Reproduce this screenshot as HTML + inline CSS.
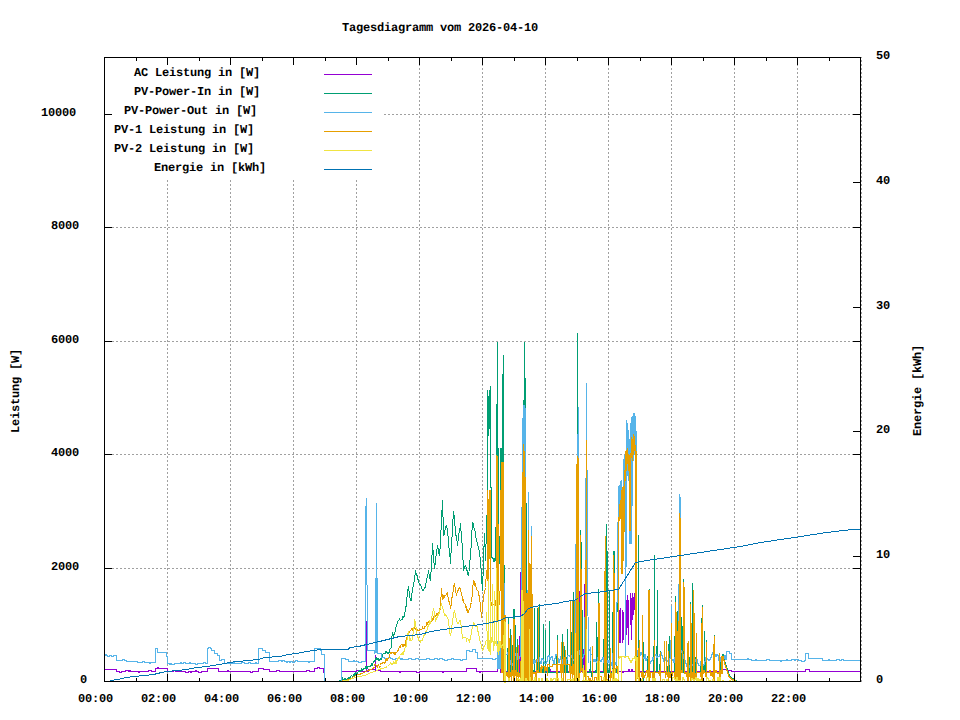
<!DOCTYPE html><html><head><meta charset="utf-8"><style>html,body{margin:0;padding:0;background:#fff;width:960px;height:720px;overflow:hidden}svg{display:block}text{font-family:"Liberation Mono",monospace;font-weight:bold;font-size:12px;letter-spacing:-0.2px;fill:#000;text-rendering:geometricPrecision}</style></head><body>
<svg width="960" height="720" viewBox="0 0 960 720">
<rect width="960" height="720" fill="#fff"/>
<path d="M167.5,682V57M230.5,682V57M293.5,682V57M356.5,682V57M419.5,682V57M482.5,682V57M545.5,682V57M608.5,682V57M671.5,682V57M734.5,682V57M797.5,682V57M104,568.5H860M104,454.5H860M104,341.5H860M104,227.5H860M104,114.5H860M861.5,682V57" stroke="#a0a0a0" stroke-width="1" stroke-dasharray="2,2" fill="none" shape-rendering="crispEdges"/>
<g fill="none" stroke-width="1" stroke-linejoin="miter" shape-rendering="crispEdges">
<path d="M104,669.5H116.5V671.5H119.5V672.5H121.5V671.5H125.5V670.5H128.5V671.5H129.5V670.5H130.5V671.5H138.5V672.5H139.5V671.5H148.5V670.5H151.5V671.5H155.5V668.5H157.5V667.5H158.5V668.5H167.5V671.5H173.5V670.5H175.5V671.5H185.5V672.5H188.5V671.5H190.5V672.5H191.5V671.5H195.5V670.5H196.5V671.5H198.5V672.5H201.5V671.5H207.5V668.5H218.5V671.5H227.5V670.5H228.5V671.5H250.5V672.5H252.5V671.5H258.5V668.5H263.5V669.5H269.5V671.5H276.5V670.5H279.5V671.5H306.5V670.5H309.5V671.5H314.5V668.5H317.5V667.5H319.5V668.5H323.5V672.5H324.5V681.5H341.5V671.5H356.5V670.5H359.5V671.5H366" stroke="#9400d3" />
<path d="M365,671.5H366.5V621V671.5H368.5V669.5H375.5V654.5V670.5H380.5V671.5" stroke="#9400d3" />
<path d="M380,671.5H399.5V672.5H400.5V671.5H416.5V672.5H419.5V671.5H442.5V672.5H443.5V671.5H466.5V668.5H476.5V671.5H479.5V672.5H480.5V671.5H498" stroke="#9400d3" />
<path d="M497.5,668.5 L497.5,671.5 L497.5,668.5 L498.5,668.5 L498.5,668.5 L499.5,668.5 L499.5,668.5 L500.5,668.5 L500.5,672.5 L500.5,672.5 L501.5,672.5 L501.5,668.5 L501.5,668.5 L502.5,668.5 L502.5,672.5 L502.5,668.5 L503.5,668.5 L503.5,671.5 L504.5,671.5 L504.5,671.5 L505.5,671.5 L505.5,671.5 L506.5,671.5 L506.5,671.5 L507.5,671.5 L507.5,671.5 L508.5,671.5 L508.5,669.5 L509.5,669.5 L509.5,671.5 L510.5,671.5 L510.5,671.5 L511.5,671.5 L511.5,671.5 L512.5,671.5 L512.5,671.5 L513.5,671.5 L513.5,671.5 L514.5,671.5 L514.5,671.5 L515.5,671.5 L515.5,671.5 L516.5,671.5 L516.5,671.5 L517.5,671.5 L517.5,671.5 L518.5,671.5 L518.5,671.5 L519.5,671.5 L519.5,671.5 L520.5,602.5 L520.5,571.5 L520.5,671.5 L521.5,671.5 L521.5,671.5 L522.5,671.5 L522.5,671.5 L523.5,671.5 L523.5,671.5 L524.5,671.5 L524.5,671.5 L525.5,671.5 L525.5,671.5 L526.5,671.5 L526.5,671.5 L527.5,671.5 L527.5,671.5 L528.5,671.5 L528.5,671.5 L529.5,671.5 L529.5,671.5 L530.5,671.5 L530.5,671.5 L531.5,671.5 L531.5,671.5 L532.5,671.5 L532.5,671.5 L533.5,671.5 L533.5,671.5 L534.5,671.5 L534.5,671.5 L535.5,671.5 L535.5,671.5 L536.5,671.5 L536.5,671.5 L537.5,671.5 L537.5,672.5 L538.5,672.5 L538.5,671.5 L539.5,671.5 L539.5,671.5 L540.5,671.5 L540.5,671.5 L541.5,671.5 L541.5,671.5 L542.5,671.5 L542.5,671.5 L543.5,671.5 L543.5,671.5 L544.5,671.5 L544.5,671.5 L545.5,671.5 L545.5,671.5 L546.5,671.5 L546.5,671.5 L547.5,671.5 L547.5,671.5 L548.5,671.5 L548.5,671.5 L549.5,671.5 L549.5,669.5 L550.5,669.5 L550.5,671.5 L551.5,671.5 L551.5,671.5 L552.5,671.5 L552.5,671.5 L553.5,671.5 L553.5,671.5 L554.5,671.5 L554.5,671.5 L555.5,671.5 L555.5,671.5 L556.5,671.5 L556.5,671.5 L557.5,671.5 L557.5,671.5 L558.5,671.5 L558.5,671.5 L559.5,671.5 L559.5,671.5 L560.5,671.5 L560.5,671.5 L561.5,671.5 L561.5,669.5 L562.5,669.5 L562.5,671.5 L563.5,671.5 L563.5,671.5 L564.5,671.5 L564.5,671.5 L565.5,671.5 L565.5,671.5 L566.5,671.5 L566.5,671.5 L567.5,671.5 L567.5,672.5 L568.5,672.5 L568.5,671.5 L569.5,671.5 L569.5,671.5 L570.5,671.5 L570.5,671.5 L571.5,671.5 L571.5,671.5 L572.5,671.5 L572.5,669.5 L573.5,669.5 L573.5,671.5 L574.5,671.5 L574.5,671.5 L575.5,671.5 L575.5,671.5 L576.5,671.5 L576.5,671.5 L577.5,671.5 L577.5,671.5 L578.5,671.5 L578.5,671.5 L579.5,671.5 L579.5,590.5 L579.5,671.5 L580.5,671.5 L580.5,671.5 L581.5,671.5 L581.5,671.5 L582.5,671.5 L582.5,671.5 L583.5,671.5 L583.5,671.5 L584.5,628.5 L584.5,583.5 L584.5,671.5 L585.5,671.5 L585.5,671.5 L586.5,671.5 L586.5,671.5 L587.5,671.5 L587.5,671.5 L588.5,671.5 L588.5,671.5 L589.5,671.5 L589.5,669.5 L590.5,669.5 L590.5,671.5 L591.5,671.5 L591.5,671.5 L592.5,671.5 L592.5,671.5 L593.5,671.5 L593.5,671.5 L594.5,671.5 L594.5,671.5 L595.5,671.5 L595.5,671.5 L596.5,671.5 L596.5,672.5 L597.5,672.5 L597.5,671.5 L598.5,671.5 L598.5,671.5 L599.5,671.5 L599.5,671.5 L600.5,671.5 L600.5,671.5 L601.5,671.5 L601.5,671.5 L602.5,671.5 L602.5,671.5 L603.5,671.5 L603.5,671.5 L604.5,671.5 L604.5,671.5 L605.5,671.5 L605.5,671.5 L606.5,671.5 L606.5,669.5 L607.5,669.5 L607.5,671.5 L608.5,671.5 L608.5,671.5 L609.5,671.5 L609.5,671.5 L610.5,671.5 L610.5,671.5 L611.5,671.5 L611.5,671.5 L612.5,671.5 L612.5,671.5 L613.5,671.5 L613.5,671.5 L614.5,671.5 L614.5,671.5 L615.5,671.5 L615.5,671.5 L616.5,671.5 L616.5,671.5 L617.5,671.5 L617.5,671.5 L618.5,671.5 L618.5,671.5 L619.5,671.5 L619.5,671.5 L620.5,671.5 L620.5,671.5 L621.5,671.5 L621.5,671.5 L622.5,671.5 L622.5,672.5 L623.5,672.5 L623.5,671.5 L624.5,671.5 L624.5,671.5 L625.5,671.5 L625.5,671.5 L626.5,671.5 L626.5,671.5 L627.5,671.5 L627.5,671.5 L628.5,671.5 L628.5,669.5 L629.5,669.5 L629.5,671.5 L630.5,671.5 L630.5,671.5 L631.5,671.5 L631.5,669.5 L632.5,669.5 L632.5,671.5 L633.5,671.5 L633.5,671.5 L634.5,671.5 L634.5,671.5 L635.5,671.5 L635.5,671.5 L636.5,671.5 L636.5,671.5 L637.5,671.5 L637.5,671.5 L638.5,671.5 L638.5,671.5 L639.5,671.5 L639.5,671.5 L640.5,671.5 L640.5,671.5 L641.5,671.5 L641.5,671.5 L642.5,671.5 L642.5,671.5 L643.5,671.5 L643.5,671.5 L644.5,671.5 L644.5,671.5 L645.5,671.5 L645.5,671.5 L646.5,671.5 L646.5,671.5 L647.5,671.5 L647.5,671.5 L648.5,671.5 L648.5,671.5 L649.5,671.5 L649.5,671.5 L650.5,671.5 L650.5,671.5 L651.5,671.5 L651.5,671.5 L652.5,671.5 L652.5,672.5 L653.5,672.5 L653.5,669.5 L654.5,669.5 L654.5,671.5 L655.5,671.5 L655.5,672.5 L656.5,672.5 L656.5,671.5 L657.5,671.5 L657.5,671.5 L658.5,671.5 L658.5,671.5 L659.5,671.5 L659.5,671.5 L660.5,671.5 L660.5,671.5 L661.5,671.5 L661.5,671.5 L662.5,671.5 L662.5,671.5 L663.5,671.5 L663.5,671.5 L664.5,671.5 L664.5,671.5 L665.5,671.5 L665.5,671.5 L666.5,671.5 L666.5,672.5 L667.5,672.5 L667.5,671.5 L668.5,671.5 L668.5,671.5 L669.5,671.5 L669.5,671.5 L670.5,671.5 L670.5,671.5 L671.5,670.5 L671.5,656.5 L671.5,671.5 L672.5,671.5 L672.5,671.5 L673.5,671.5 L673.5,671.5 L674.5,671.5 L674.5,671.5 L675.5,671.5 L675.5,671.5 L676.5,671.5 L676.5,665.5 L676.5,671.5 L677.5,671.5 L677.5,671.5 L678.5,671.5 L678.5,666.5 L678.5,671.5 L679.5,671.5 L679.5,671.5 L680.5,671.5 L680.5,671.5 L681.5,671.5 L681.5,671.5 L682.5,671.5 L682.5,671.5 L683.5,671.5 L683.5,671.5 L684.5,671.5 L684.5,671.5 L685.5,671.5 L685.5,671.5 L686.5,671.5 L686.5,671.5 L687.5,671.5 L687.5,669.5 L688.5,669.5 L688.5,669.5 L689.5,669.5 L689.5,671.5 L690.5,671.5 L690.5,671.5 L691.5,671.5 L691.5,671.5 L692.5,671.5 L692.5,671.5 L693.5,671.5 L693.5,671.5 L694.5,671.5 L694.5,671.5 L695.5,671.5 L695.5,671.5 L696.5,671.5 L696.5,671.5 L697.5,671.5 L697.5,671.5 L698.5,671.5 L698.5,671.5 L699.5,671.5 L699.5,671.5 L700.5,671.5 L700.5,671.5 L701.5,671.5 L701.5,671.5 L702.5,671.5 L702.5,671.5 L703.5,671.5 L703.5,671.5 L704.5,671.5 L704.5,671.5 L705.5,671.5 L705.5,672.5 L706.5,672.5 L706.5,671.5" stroke="#9400d3" />
<path d="M619.5,610V643M620.5,608V643M622.5,610V643M623.5,612V640M626.5,600V635M627.5,595V628M628.5,600V645M630.5,593V625M631.5,598V640M632.5,593V620M633.5,597V615M634.5,593V610M635.5,595V612" stroke="#9400d3" />
<path d="M706,671.5H720.5V669.5H727.5V670.5H731.5V671.5H805.5V669.5H809.5V671.5H860.5V671.5" stroke="#9400d3" />
<path d="M338.5,681.5 L341.5,679.5 L341.5,679.5 L342.0,678.7 L342.5,678.2 L343.0,680.5 L343.5,680.1 L344.0,679.6 L344.5,678.7 L345.0,678.4 L345.5,679.6 L346.0,679.1 L346.5,679.2 L347.0,679.2 L347.5,679.5 L348.0,677.8 L348.5,677.9 L349.0,680.0 L349.5,678.5 L350.0,679.4 L350.5,679.0 L351.0,676.1 L351.5,675.8 L352.0,676.1 L352.5,676.5 L353.0,675.9 L353.5,676.1 L354.0,674.2 L354.5,675.1 L355.0,673.3 L355.5,673.0 L356.0,674.4 L356.5,673.5 L357.0,673.3 L357.5,673.1 L358.0,672.0 L358.5,671.9 L359.0,670.8 L359.5,670.8 L360.0,671.6 L360.5,670.5 L361.0,671.3 L361.5,668.7 L362.0,668.6 L362.5,670.4 L363.0,669.6 L363.5,669.8 L364.0,667.9 L364.5,668.5 L365.0,668.0 L365.5,667.3 L366.0,668.7 L366.5,667.1 L367.0,667.7 L367.5,668.5 L368.0,666.2 L368.5,666.5 L369.0,666.4 L369.5,666.7 L370.0,667.0 L370.5,665.3 L371.0,664.9 L371.5,663.8 L372.0,665.9 L372.5,664.5 L373.0,662.7 L373.5,662.2 L374.0,663.2 L374.5,662.5 L375.0,660.5 L375.5,658.5 L376.0,659.3 L376.5,658.4 L377.0,660.1 L377.5,659.5 L378.0,658.5 L378.5,659.1 L379.0,660.7 L379.5,660.5 L380.0,658.7 L380.5,658.9 L381.0,659.7 L381.5,658.5 L382.0,657.6 L382.5,655.5 L383.0,654.3 L383.5,653.4 L384.0,653.6 L384.5,653.5 L385.0,653.9 L385.5,652.6 L386.0,651.6 L386.5,652.5 L387.0,653.1 L387.5,652.7 L388.0,653.8 L388.5,652.5 L389.0,652.8 L389.5,651.7 L390.0,649.3 L390.5,648.5 L391.0,647.9 L391.5,645.5 L391.5,640.5 L392.0,635.9 L392.5,632.5 L393.0,634.0 L393.5,636.5 L394.0,634.4 L394.5,634.1 L395.0,632.2 L395.5,628.4 L396.0,626.9 L396.5,625.5 L397.0,623.8 L397.5,622.6 L398.0,621.4 L398.5,620.5 L399.0,620.0 L399.5,619.3 L400.0,620.2 L400.5,620.7 L401.0,619.8 L401.5,619.5 L402.0,619.8 L402.5,618.4 L403.0,616.5 L403.5,617.6 L404.0,617.3 L404.5,615.5 L405.0,611.8 L405.5,608.1 L406.0,606.5 L406.5,603.5 L407.0,597.1 L407.5,590.5 L408.0,588.7 L408.5,586.5 L409.0,591.4 L409.5,593.5 L410.0,597.5 L410.5,600.5 L411.0,600.9 L411.5,599.5 L412.0,592.7 L412.5,588.5 L413.0,586.9 L413.5,585.9 L414.0,582.0 L414.5,581.5 L415.0,574.7 L415.5,570.5 L416.0,573.2 L416.5,575.7 L417.0,575.3 L417.5,578.5 L418.0,580.2 L418.5,579.9 L419.0,583.0 L419.5,583.5 L420.0,584.9 L420.5,584.7 L421.0,585.7 L421.5,587.5 L422.0,589.0 L422.5,589.1 L423.0,590.5 L423.5,590.5 L424.0,588.9 L424.5,587.5 L425.0,588.2 L425.5,585.5 L426.0,583.5 L426.5,580.5 L427.0,578.1 L427.5,575.5 L428.0,573.7 L428.5,570.5 L429.0,573.6 L429.5,575.5 L430.0,579.2 L430.5,580.5 L431.0,572.7 L431.5,565.5 L432.0,555.5 L432.5,543.5 L433.0,550.0 L433.5,555.5 L434.0,563.1 L434.5,568.5 L435.0,564.9 L435.5,560.5 L436.0,556.2 L436.5,550.5 L437.0,549.4 L437.5,545.5 L438.0,548.4 L438.5,550.6 L439.0,553.6 L439.5,555.5 L440.0,548.9 L440.5,540.5 L441.0,530.3 L441.5,520.5 L442.0,510.3 L442.5,500.5 L443.0,516.9 L443.5,535.5 L444.0,534.5 L444.5,533.5 L445.0,529.9 L445.5,528.5 L446.0,526.0 L446.5,525.5 L447.0,528.4 L447.5,532.8 L448.0,536.1 L448.5,540.5 L449.0,547.7 L449.5,550.7 L450.0,557.2 L450.5,563.5 L451.0,553.3 L451.5,545.5 L452.0,537.4 L452.5,529.3 L453.0,519.0 L453.5,511.5 L454.0,514.9 L454.5,520.9 L455.0,526.0 L455.5,530.5 L456.0,535.5 L456.5,536.6 L457.0,540.6 L457.5,545.5 L458.0,540.8 L458.5,537.2 L459.0,533.5 L459.5,530.5 L460.0,527.7 L460.5,523.5 L461.0,530.5 L461.5,536.2 L462.0,542.8 L462.5,550.5 L463.0,559.8 L463.5,570.5 L464.0,568.3 L464.5,568.8 L465.0,566.2 L465.5,565.5 L466.0,567.3 L466.5,569.8 L467.0,570.4 L467.5,571.4 L468.0,575.0 L468.5,575.5 L469.0,571.7 L469.5,565.0 L470.0,560.6 L470.5,555.5 L471.0,548.6 L471.5,538.9 L472.0,529.9 L472.5,522.5 L473.0,522.6 L473.5,526.8 L474.0,527.9 L474.5,528.5 L475.0,531.2 L475.5,534.6 L476.0,537.5 L476.5,540.5 L477.0,541.6 L477.5,545.5 L478.0,546.2 L478.5,547.5 L479.0,550.0 L479.5,552.5 L480.0,557.2 L480.5,560.5 L481.0,567.6 L481.5,576.4 L482.0,583.6 L482.5,590.5 L483.0,576.6 L483.5,561.0 L484.0,546.7 L484.5,533.5 L485.0,546.5 L485.5,560.5 L486.0,544.8 L486.5,530.5" stroke="#009e73" />
<path d="M486.5,530.5 L487.5,500.5 L487.5,390.5 L487.5,390.5 L488.5,400.5 L488.5,435.5 L488.5,435.5 L489.5,423.5 L489.5,393.5 L489.5,393.5 L490.5,386.5 L490.5,487.5 L490.5,487.5 L491.5,487.5 L491.5,548.5 L491.5,557.2 L492.5,557.2 L492.5,558.8 L493.5,558.8 L493.5,561.9 L494.5,561.9 L494.5,558.4 L495.5,558.4 L495.5,560.9 L496.5,495.5 L496.5,404.5 L496.5,404.5 L497.5,456.5 L497.5,342.5 L497.5,342.5 L498.5,552.5 L498.5,563.5 L498.5,563.5 L499.5,563.5 L499.5,552.5 L499.5,552.5 L500.5,520.5 L500.5,448.5 L500.5,448.5 L501.5,448.5 L501.5,520.5 L501.5,520.5 L502.5,462.5 L502.5,394.5 L502.5,394.5 L503.5,355.5 L503.5,489.5 L503.5,565.8 L504.5,565.8 L504.5,672.5 L505.5,672.5 L505.5,672.5 L506.5,672.5 L506.5,672.5 L507.5,672.5 L507.5,672.5 L508.5,624.5 L508.5,617.5 L508.5,672.5 L509.5,672.5 L509.5,672.5 L510.5,634.5 L510.5,628.5 L510.5,672.5 L511.5,672.5 L511.5,672.5 L512.5,672.5 L512.5,672.5 L513.5,619.5 L513.5,609.5 L513.5,609.5 L514.5,609.5 L514.5,619.5 L514.5,619.5 L515.5,630.5 L515.5,646.5 L515.5,672.5 L516.5,672.5 L516.5,672.5 L517.5,644.5 L517.5,638.5 L517.5,672.5 L518.5,672.5 L518.5,672.5 L519.5,672.5 L519.5,672.5 L520.5,672.5 L520.5,672.5 L521.5,672.5 L521.5,672.5 L522.5,672.5 L522.5,672.5 L523.5,415.5 L523.5,400.5 L523.5,400.5 L524.5,415.5 L524.5,342.5 L524.5,342.5 L525.5,410.5 L525.5,420.5 L525.5,420.5 L526.5,583.5 L526.5,590.5 L526.5,672.5 L527.5,672.5 L527.5,672.5 L528.5,672.5 L528.5,672.5 L529.5,672.5 L529.5,672.5 L530.5,672.5 L530.5,672.5 L531.5,672.5 L531.5,672.5 L532.5,672.5 L532.5,672.5 L533.5,672.5 L533.5,672.5 L534.5,667.5 L534.5,607.5 L534.5,672.5 L535.5,672.5 L535.5,672.5 L536.5,672.5 L536.5,672.5 L537.5,667.5 L537.5,607.5 L537.5,672.5 L538.5,672.5 L538.5,672.5 L539.5,623.5 L539.5,603.5 L539.5,672.5 L540.5,672.5 L540.5,672.5 L541.5,672.5 L541.5,672.5 L542.5,672.5 L542.5,672.5 L543.5,660.5 L543.5,623.5 L543.5,672.5 L544.5,672.5 L544.5,672.5 L545.5,660.5 L545.5,629.5 L545.5,672.5 L546.5,672.5 L546.5,672.5 L547.5,672.5 L547.5,672.5 L548.5,672.5 L548.5,672.5 L549.5,662.5 L549.5,620.5 L549.5,672.5 L550.5,672.5 L550.5,672.5 L551.5,672.5 L551.5,672.5 L552.5,672.5 L552.5,672.5 L553.5,672.5 L553.5,672.5 L554.5,672.5 L554.5,672.5 L555.5,672.5 L555.5,672.5 L556.5,672.5 L556.5,672.5 L557.5,640.5 L557.5,634.5 L557.5,672.5 L558.5,672.5 L558.5,672.5 L559.5,672.5 L559.5,672.5 L560.5,672.5 L560.5,672.5 L561.5,672.5 L561.5,672.5 L562.5,650.5 L562.5,633.5 L562.5,672.5 L563.5,672.5 L563.5,672.5 L564.5,655.5 L564.5,645.5 L564.5,672.5 L565.5,672.5 L565.5,672.5 L566.5,672.5 L566.5,672.5 L567.5,642.5 L567.5,628.5 L567.5,672.5 L568.5,672.5 L568.5,672.5 L569.5,672.5 L569.5,672.5 L570.5,672.5 L570.5,672.5 L571.5,660.5 L571.5,631.5 L571.5,672.5 L572.5,672.5 L572.5,672.5 L573.5,620.5 L573.5,591.5 L573.5,672.5 L574.5,672.5 L574.5,672.5 L575.5,672.5 L575.5,672.5 L576.5,672.5 L576.5,672.5 L577.5,406.5 L577.5,333.5 L577.5,333.5 L578.5,580.5 L578.5,600.5 L578.5,672.5 L579.5,672.5 L579.5,672.5 L580.5,535.5 L580.5,530.5 L580.5,530.5 L581.5,553.5 L581.5,665.5 L581.5,665.5 L582.5,665.5 L582.5,609.5 L582.5,672.5 L583.5,672.5 L583.5,672.5 L584.5,672.5 L584.5,672.5 L585.5,672.5 L585.5,672.5 L586.5,672.5 L586.5,672.5 L587.5,672.5 L587.5,672.5 L588.5,672.5 L588.5,672.5 L589.5,672.5 L589.5,672.5 L590.5,665.5 L590.5,653.5 L590.5,672.5 L591.5,672.5 L591.5,672.5 L592.5,680.5 L592.5,645.5 L592.5,672.5 L593.5,672.5 L593.5,672.5 L594.5,672.5 L594.5,672.5 L595.5,672.5 L595.5,672.5 L596.5,667.5 L596.5,621.5 L596.5,672.5 L597.5,672.5 L597.5,672.5 L598.5,603.5 L598.5,588.5 L598.5,672.5 L599.5,672.5 L599.5,672.5 L600.5,672.5 L600.5,672.5 L601.5,672.5 L601.5,672.5 L602.5,672.5 L602.5,672.5 L603.5,672.5 L603.5,672.5 L604.5,607.5 L604.5,604.5 L604.5,672.5 L605.5,672.5 L605.5,672.5 L606.5,536.5 L606.5,524.5 L606.5,524.5 L607.5,575.5 L607.5,667.5 L607.5,672.5 L608.5,672.5 L608.5,672.5 L609.5,667.5 L609.5,590.5 L609.5,672.5 L610.5,672.5 L610.5,672.5 L611.5,672.5 L611.5,672.5 L612.5,672.5 L612.5,672.5 L613.5,555.5 L613.5,551.5 L613.5,551.5 L614.5,551.5 L614.5,555.5 L614.5,672.5 L615.5,672.5 L615.5,672.5 L616.5,672.5 L616.5,672.5 L617.5,553.5 L617.5,545.5 L617.5,545.5 L618.5,508.5 L618.5,500.5 L618.5,500.5 L619.5,497.5 L619.5,505.5 L619.5,505.5 L620.5,502.5 L620.5,494.5 L620.5,494.5 L621.5,492.5 L621.5,500.5 L621.5,500.5 L622.5,498.5 L622.5,506.5 L622.5,506.5 L623.5,478.5 L623.5,470.5 L623.5,470.5 L624.5,470.5 L624.5,462.5 L624.5,462.5 L625.5,460.5 L625.5,468.5 L625.5,468.5 L626.5,438.5 L626.5,430.5 L626.5,430.5 L627.5,434.5 L627.5,442.5 L627.5,442.5 L628.5,440.5 L628.5,448.5 L628.5,448.5 L629.5,455.5 L629.5,463.5 L629.5,463.5 L630.5,444.5 L630.5,436.5 L630.5,436.5 L631.5,433.5 L631.5,425.5 L631.5,425.5 L632.5,428.5 L632.5,436.5 L632.5,436.5 L633.5,428.5 L633.5,420.5 L633.5,420.5 L634.5,420.5 L634.5,428.5 L634.5,428.5 L635.5,428.5 L635.5,436.5 L635.5,436.5 L636.5,440.5 L636.5,448.5 L636.5,672.5 L637.5,672.5 L637.5,672.5 L638.5,640.5 L638.5,534.5 L638.5,672.5 L639.5,672.5 L639.5,672.5 L640.5,672.5 L640.5,672.5 L641.5,672.5 L641.5,672.5 L642.5,672.5 L642.5,672.5 L643.5,680.5 L643.5,641.5 L643.5,672.5 L644.5,672.5 L644.5,672.5 L645.5,672.5 L645.5,672.5 L646.5,672.5 L646.5,672.5 L647.5,672.5 L647.5,672.5 L648.5,640.5 L648.5,631.5 L648.5,631.5 L649.5,592.5 L649.5,588.5 L649.5,672.5 L650.5,672.5 L650.5,672.5 L651.5,672.5 L651.5,672.5 L652.5,672.5 L652.5,672.5 L653.5,672.5 L653.5,672.5 L654.5,620.5 L654.5,554.5 L654.5,672.5 L655.5,672.5 L655.5,672.5 L656.5,672.5 L656.5,672.5 L657.5,620.5 L657.5,589.5 L657.5,672.5 L658.5,672.5 L658.5,672.5 L659.5,672.5 L659.5,672.5 L660.5,656.5 L660.5,650.5 L660.5,672.5 L661.5,672.5 L661.5,672.5 L662.5,672.5 L662.5,672.5 L663.5,672.5 L663.5,672.5 L664.5,672.5 L664.5,672.5 L665.5,672.5 L665.5,672.5 L666.5,672.5 L666.5,672.5 L667.5,672.5 L667.5,672.5 L668.5,660.5 L668.5,644.5 L668.5,644.5 L669.5,650.5 L669.5,635.5 L669.5,672.5 L670.5,672.5 L670.5,672.5 L671.5,672.5 L671.5,672.5 L672.5,672.5 L672.5,672.5 L673.5,672.5 L673.5,672.5 L674.5,672.5 L674.5,672.5 L675.5,602.5 L675.5,595.5 L675.5,672.5 L676.5,672.5 L676.5,672.5 L677.5,640.5 L677.5,610.5 L677.5,672.5 L678.5,672.5 L678.5,672.5 L679.5,672.5 L679.5,672.5 L680.5,672.5 L680.5,672.5 L681.5,670.5 L681.5,616.5 L681.5,672.5 L682.5,672.5 L682.5,672.5 L683.5,582.5 L683.5,578.5 L683.5,672.5 L684.5,672.5 L684.5,672.5 L685.5,672.5 L685.5,672.5 L686.5,672.5 L686.5,672.5 L687.5,672.5 L687.5,672.5 L688.5,672.5 L688.5,672.5 L689.5,672.5 L689.5,672.5 L690.5,641.5 L690.5,601.5 L690.5,672.5 L691.5,672.5 L691.5,672.5 L692.5,589.5 L692.5,582.5 L692.5,672.5 L693.5,672.5 L693.5,672.5 L694.5,641.5 L694.5,634.5 L694.5,672.5 L695.5,672.5 L695.5,672.5 L696.5,641.5 L696.5,632.5 L696.5,672.5 L697.5,672.5 L697.5,672.5 L698.5,672.5 L698.5,672.5 L699.5,672.5 L699.5,672.5 L700.5,672.5 L700.5,672.5 L701.5,660.5 L701.5,628.5 L701.5,628.5 L702.5,607.5 L702.5,604.5 L702.5,672.5 L703.5,672.5 L703.5,672.5 L704.5,660.5 L704.5,630.5 L704.5,672.5 L705.5,672.5 L705.5,672.5 L706.5,641.5 L706.5,639.5 L706.5,672.5 L707.5,672.5 L707.5,672.5 L708.5,672.5 L708.5,672.5 L709.5,672.5 L709.5,672.5 L710.5,672.5 L710.5,672.5 L711.5,672.5 L711.5,672.5 L712.5,672.5 L712.5,672.5 L713.5,672.5 L713.5,672.5 L714.5,636.5 L714.5,634.5 L714.5,672.5 L715.5,672.5 L715.5,672.5 L716.5,672.5 L716.5,672.5 L717.5,672.5 L717.5,672.5 L718.5,672.5 L718.5,672.5 L719.5,672.5 L719.5,672.5 L720.5,665.5 L720.5,656.5 L720.5,672.5 L721.5,672.5 L721.5,672.5 L722.5,672.5 L722.5,654.5 L723.5,654.5 L723.5,658.5 L724.5,658.5 L724.5,662.5 L725.5,662.5 L725.5,665.5 L726.5,665.5 L726.5,668.5 L727.5,668.5 L727.5,671.5 L728.5,671.5 L728.5,674.5 L729.5,674.5 L729.5,676.5 L730.5,676.5 L730.5,677.5 L731.5,677.5 L731.5,678.5 L732.5,678.5 L732.5,678.5 L733.5,678.5 L733.5,679.5 L734.5,679.5 L734.5,680.5 L735.5,680.5 L735.5,680.5 L736.5,680.5 L736.5,681.5 L737.5,681.5 L737.5,681.5" stroke="#009e73" />
<path d="M104,655.5H105.5V654.5H106.5V655.5H107.5V656.5H109.5V655.5H111.5V656.5H113.5V655.5H116.5V660.5H122.5V659.5H124.5V660.5H126.5V661.5H137.5V662.5H142.5V661.5H144.5V662.5H149.5V663.5H150.5V662.5H155.5V648.5H157.5V652.5H166.5V656.5H167.5V663.5H169.5V664.5H170.5V663.5H171.5V664.5H174.5V663.5H180.5V662.5H181.5V663.5H183.5V662.5H185.5V663.5H189.5V662.5H190.5V663.5H195.5V664.5H197.5V663.5H203.5V662.5H205.5V663.5H207.5V648.5H208.5V647.5H210.5V648.5H211.5V650.5H214.5V653.5H217.5V655.5H219.5V660.5H221.5V659.5H224.5V663.5H233.5V662.5H234.5V663.5H241.5V662.5H244.5V663.5H248.5V662.5H250.5V663.5H255.5V662.5H256.5V663.5H258.5V648.5H262.5V650.5H265.5V652.5H269.5V661.5H278.5V660.5H281.5V661.5H282.5V660.5H284.5V661.5H286.5V662.5H287.5V661.5H289.5V662.5H290.5V661.5H292.5V662.5H294.5V661.5H295.5V660.5H297.5V661.5H308.5V662.5H309.5V661.5H314.5V648.5H320.5V650.5H321.5V654.5H324.5V681.5H341.5V658.5H345.5V659.5H348.5V661.5H353.5V660.5H354.5V661.5H358.5V662.5H361.5V661.5H366" stroke="#56b4e9" />
<path d="M365.5,661.5V506M366.5,506V497.5M366.5,497.5V585M367.5,585V650.5H374.5V653.5M375.5,653V578M376.5,653V503M377.5,578V653.5H380.5" stroke="#56b4e9" />
<path d="M380,653.5H381.5V657.5H384.5V658.5H388.5V657.5H390.5V658.5H392.5V659.5H395.5V658.5H400.5V659.5H401.5V658.5H402.5V659.5H408.5V658.5H411.5V659.5H415.5V658.5H418.5V659.5H426.5V658.5H429.5V659.5H434.5V658.5H437.5V659.5H439.5V658.5H442.5V659.5H444.5V660.5H447.5V659.5H451.5V658.5H453.5V659.5H460.5V660.5H462.5V659.5H466.5V650.5H469.5V651.5H472.5V649.5H475.5V652.5H477.5V658.5H492.5V659.5H495.5V658.5H498" stroke="#56b4e9" />
<path d="M497.5,668.5 L497.5,641.5 L497.5,641.5 L498.5,641.5 L498.5,668.5 L498.5,668.5 L499.5,668.5 L499.5,641.5 L499.5,641.5 L500.5,641.5 L500.5,668.5 L500.5,668.5 L501.5,668.5 L501.5,641.5 L501.5,641.5 L502.5,641.5 L502.5,668.5 L502.5,668.5 L503.5,668.5 L503.5,641.5 L503.5,641.5 L504.5,619.5 L504.5,582.5 L504.5,650.5 L505.5,650.5 L505.5,654.5 L506.5,654.5 L506.5,654.5 L507.5,654.5 L507.5,652.5 L508.5,652.5 L508.5,657.5 L509.5,657.5 L509.5,660.5 L510.5,660.5 L510.5,664.5 L511.5,664.5 L511.5,665.5 L512.5,665.5 L512.5,663.5 L513.5,663.5 L513.5,658.5 L514.5,658.5 L514.5,655.5 L515.5,655.5 L515.5,653.5 L516.5,653.5 L516.5,653.5 L517.5,653.5 L517.5,659.5 L518.5,659.5 L518.5,658.5 L519.5,658.5 L519.5,656.5 L520.5,656.5 L520.5,653.5 L521.5,580.5 L521.5,533.5 L521.5,533.5 L522.5,482.5 L522.5,430.5 L522.5,430.5 L523.5,405.5 L523.5,500.5 L523.5,500.5 L524.5,410.5 L524.5,405.5 L524.5,405.5 L525.5,410.5 L525.5,495.5 L525.5,650.5 L526.5,650.5 L526.5,655.5 L527.5,655.5 L527.5,652.5 L528.5,530.5 L528.5,491.5 L528.5,655.5 L529.5,655.5 L529.5,660.5 L530.5,660.5 L530.5,660.5 L531.5,540.5 L531.5,525.5 L531.5,663.5 L532.5,663.5 L532.5,659.5 L533.5,659.5 L533.5,663.5 L534.5,663.5 L534.5,660.5 L535.5,660.5 L535.5,662.5 L536.5,662.5 L536.5,661.5 L537.5,661.5 L537.5,659.5 L538.5,659.5 L538.5,657.5 L539.5,657.5 L539.5,661.5 L540.5,661.5 L540.5,663.5 L541.5,663.5 L541.5,658.5 L542.5,658.5 L542.5,659.5 L543.5,659.5 L543.5,661.5 L544.5,661.5 L544.5,663.5 L545.5,663.5 L545.5,663.5 L546.5,663.5 L546.5,661.5 L547.5,661.5 L547.5,656.5 L548.5,656.5 L548.5,655.5 L549.5,655.5 L549.5,659.5 L550.5,659.5 L550.5,657.5 L551.5,657.5 L551.5,656.5 L552.5,656.5 L552.5,660.5 L553.5,660.5 L553.5,664.5 L554.5,664.5 L554.5,658.5 L555.5,658.5 L555.5,654.5 L556.5,654.5 L556.5,655.5 L557.5,655.5 L557.5,658.5 L558.5,658.5 L558.5,662.5 L559.5,662.5 L559.5,659.5 L560.5,659.5 L560.5,656.5 L561.5,656.5 L561.5,659.5 L562.5,659.5 L562.5,663.5 L563.5,663.5 L563.5,662.5 L564.5,662.5 L564.5,664.5 L565.5,664.5 L565.5,664.5 L566.5,664.5 L566.5,659.5 L567.5,659.5 L567.5,655.5 L568.5,655.5 L568.5,655.5 L569.5,655.5 L569.5,656.5 L570.5,656.5 L570.5,657.5 L571.5,657.5 L571.5,655.5 L572.5,655.5 L572.5,660.5 L573.5,660.5 L573.5,659.5 L574.5,659.5 L574.5,661.5 L575.5,571.5 L575.5,543.5 L575.5,663.5 L576.5,663.5 L576.5,659.5 L577.5,465.5 L577.5,434.5 L577.5,434.5 L578.5,456.5 L578.5,406.5 L578.5,650.5 L579.5,650.5 L579.5,654.5 L580.5,654.5 L580.5,656.5 L581.5,656.5 L581.5,658.5 L582.5,658.5 L582.5,657.5 L583.5,657.5 L583.5,654.5 L584.5,654.5 L584.5,654.5 L585.5,582.5 L585.5,519.5 L585.5,519.5 L586.5,440.5 L586.5,383.5 L586.5,383.5 L587.5,553.5 L587.5,582.5 L587.5,582.5 L588.5,647.5 L588.5,662.5 L588.5,650.5 L589.5,650.5 L589.5,650.5 L590.5,647.5 L590.5,660.5 L590.5,654.5 L591.5,654.5 L591.5,654.5 L592.5,654.5 L592.5,659.5 L593.5,659.5 L593.5,661.5 L594.5,661.5 L594.5,659.5 L595.5,659.5 L595.5,661.5 L596.5,661.5 L596.5,662.5 L597.5,662.5 L597.5,657.5 L598.5,657.5 L598.5,657.5 L599.5,657.5 L599.5,660.5 L600.5,660.5 L600.5,661.5 L601.5,661.5 L601.5,659.5 L602.5,659.5 L602.5,657.5 L603.5,657.5 L603.5,662.5 L604.5,662.5 L604.5,659.5 L605.5,659.5 L605.5,662.5 L606.5,662.5 L606.5,660.5 L607.5,660.5 L607.5,662.5 L608.5,662.5 L608.5,660.5 L609.5,660.5 L609.5,663.5 L610.5,663.5 L610.5,662.5 L611.5,662.5 L611.5,664.5 L612.5,667.5 L612.5,652.5 L612.5,665.5 L613.5,665.5 L613.5,666.5 L614.5,666.5 L614.5,662.5 L615.5,662.5 L615.5,664.5 L616.5,664.5 L616.5,661.5 L617.5,545.5 L617.5,530.5 L617.5,530.5 L618.5,513.5 L618.5,487.5 L618.5,487.5 L619.5,485.5 L619.5,513.5 L619.5,513.5 L620.5,518.5 L620.5,482.5 L620.5,482.5 L621.5,480.5 L621.5,518.5 L621.5,518.5 L622.5,500.5 L622.5,487.5 L622.5,487.5 L623.5,500.5 L623.5,462.5 L623.5,462.5 L624.5,455.5 L624.5,500.5 L624.5,500.5 L625.5,453.5 L625.5,657.5 L625.5,657.5 L626.5,480.5 L626.5,420.5 L626.5,420.5 L627.5,425.5 L627.5,470.5 L627.5,470.5 L628.5,480.5 L628.5,430.5 L628.5,430.5 L629.5,447.5 L629.5,543.5 L629.5,543.5 L630.5,543.5 L630.5,428.5 L630.5,428.5 L631.5,417.5 L631.5,543.5 L631.5,543.5 L632.5,470.5 L632.5,418.5 L632.5,418.5 L633.5,413.5 L633.5,460.5 L633.5,460.5 L634.5,450.5 L634.5,413.5 L634.5,413.5 L635.5,418.5 L635.5,450.5 L635.5,450.5 L636.5,450.5 L636.5,430.5 L636.5,650.5 L637.5,650.5 L637.5,655.5 L638.5,655.5 L638.5,658.5 L639.5,658.5 L639.5,655.5 L640.5,655.5 L640.5,652.5 L641.5,652.5 L641.5,654.5 L642.5,654.5 L642.5,657.5 L643.5,657.5 L643.5,658.5 L644.5,658.5 L644.5,654.5 L645.5,654.5 L645.5,660.5 L646.5,660.5 L646.5,658.5 L647.5,658.5 L647.5,658.5 L648.5,658.5 L648.5,662.5 L649.5,662.5 L649.5,663.5 L650.5,663.5 L650.5,661.5 L651.5,661.5 L651.5,660.5 L652.5,660.5 L652.5,657.5 L653.5,657.5 L653.5,659.5 L654.5,659.5 L654.5,655.5 L655.5,655.5 L655.5,654.5 L656.5,654.5 L656.5,657.5 L657.5,657.5 L657.5,656.5 L658.5,656.5 L658.5,656.5 L659.5,656.5 L659.5,654.5 L660.5,654.5 L660.5,652.5 L661.5,652.5 L661.5,655.5 L662.5,655.5 L662.5,658.5 L663.5,658.5 L663.5,661.5 L664.5,661.5 L664.5,657.5 L665.5,657.5 L665.5,660.5 L666.5,660.5 L666.5,661.5 L667.5,661.5 L667.5,660.5 L668.5,660.5 L668.5,664.5 L669.5,664.5 L669.5,658.5 L670.5,658.5 L670.5,658.5 L671.5,622.5 L671.5,605.5 L671.5,660.5 L672.5,660.5 L672.5,659.5 L673.5,659.5 L673.5,662.5 L674.5,662.5 L674.5,657.5 L675.5,657.5 L675.5,657.5 L676.5,657.5 L676.5,656.5 L677.5,656.5 L677.5,661.5 L678.5,661.5 L678.5,658.5 L679.5,513.5 L679.5,494.5 L679.5,494.5 L680.5,500.5 L680.5,521.5 L680.5,650.5 L681.5,650.5 L681.5,652.5 L682.5,652.5 L682.5,654.5 L683.5,654.5 L683.5,658.5 L684.5,658.5 L684.5,660.5 L685.5,660.5 L685.5,663.5 L686.5,663.5 L686.5,666.5 L687.5,666.5 L687.5,662.5 L688.5,662.5 L688.5,665.5 L689.5,665.5 L689.5,667.5 L690.5,667.5 L690.5,665.5 L691.5,665.5 L691.5,664.5 L692.5,664.5 L692.5,665.5 L693.5,665.5 L693.5,665.5 L694.5,665.5 L694.5,661.5 L695.5,661.5 L695.5,659.5 L696.5,659.5 L696.5,659.5 L697.5,659.5 L697.5,663.5 L698.5,663.5 L698.5,665.5 L699.5,665.5 L699.5,665.5 L700.5,665.5 L700.5,661.5 L701.5,661.5 L701.5,662.5 L702.5,662.5 L702.5,665.5 L703.5,665.5 L703.5,664.5 L704.5,664.5 L704.5,661.5 L705.5,661.5 L705.5,657.5 L706.5,657.5 L706.5,658.5 L707.5,658.5 L707.5,659.5 L708.5,659.5 L708.5,660.5 L709.5,660.5 L709.5,659.5 L710.5,659.5 L710.5,657.5 L711.5,657.5 L711.5,654.5 L712.5,654.5 L712.5,652.5 L713.5,652.5 L713.5,657.5 L714.5,657.5 L714.5,654.5 L715.5,654.5 L715.5,656.5 L716.5,656.5 L716.5,654.5 L717.5,654.5 L717.5,655.5 L718.5,655.5 L718.5,660.5 L719.5,660.5 L719.5,661.5 L720.5,661.5 L720.5,657.5 L721.5,657.5 L721.5,659.5 L722.5,659.5 L722.5,658.5 L723.5,658.5 L723.5,658.5 L724.5,658.5 L724.5,655.5 L725.5,655.5 L725.5,658.5" stroke="#56b4e9" />
<path d="M725,659.5H726.5V651.5H729.5V653.5H731.5V659.5H747.5V658.5H748.5V659.5H751.5V660.5H755.5V659.5H756.5V660.5H766.5V659.5H769.5V660.5H780.5V661.5H781.5V660.5H786.5V659.5H787.5V660.5H791.5V659.5H794.5V660.5H795.5V659.5H798.5V660.5H801.5V661.5H804.5V660.5H805.5V653.5H808.5V658.5H822.5V660.5H828.5V659.5H829.5V660.5H836.5V659.5H839.5V660.5H841.5V659.5H843.5V660.5H861" stroke="#56b4e9" />
<path d="M338.5,681.5 L345.5,680.5 L349.5,679.5 L352.5,677.5 L355.5,675.5 L358.5,674.5 L362.5,673.5 L365.5,671.5 L368.5,670.5 L370.5,669.5 L373.5,668.5 L374.5,666.5 L374.5,666.5 L375.0,664.4 L375.5,664.5 L376.0,664.6 L376.5,666.0 L377.0,665.2 L377.5,666.5 L378.0,665.4 L378.5,664.7 L379.0,666.3 L379.5,667.2 L380.0,667.1 L380.5,665.5 L381.0,663.4 L381.5,663.5 L382.0,663.8 L382.5,662.8 L383.0,663.1 L383.5,662.5 L384.0,661.8 L384.5,663.1 L385.0,662.8 L385.5,659.6 L386.0,661.3 L386.5,659.1 L387.0,658.5 L387.5,659.5 L388.0,657.9 L388.5,658.2 L389.0,658.0 L389.5,654.4 L390.0,654.0 L390.5,653.5 L391.0,651.9 L391.5,653.3 L392.0,652.9 L392.5,652.5 L393.0,652.1 L393.5,652.5 L394.0,653.7 L394.5,654.0 L395.0,652.6 L395.5,653.5 L396.0,652.4 L396.5,652.4 L397.0,652.0 L397.5,650.5 L398.0,650.9 L398.5,648.2 L399.0,648.1 L399.5,646.5 L400.0,646.5 L400.5,647.1 L401.0,644.9 L401.5,644.9 L402.0,644.5 L402.5,645.5 L403.0,646.8 L403.5,644.8 L404.0,645.5 L404.5,644.4 L405.0,645.0 L405.5,645.5 L406.0,640.1 L406.5,637.5 L407.0,636.9 L407.5,634.9 L408.0,635.6 L408.5,634.5 L409.0,632.8 L409.5,631.7 L410.0,631.4 L410.5,630.5 L411.0,629.9 L411.5,629.4 L412.0,628.6 L412.5,628.4 L413.0,630.7 L413.5,628.7 L414.0,627.8 L414.5,627.9 L415.0,628.7 L415.5,628.5 L416.0,630.3 L416.5,628.3 L417.0,630.6 L417.5,629.8 L418.0,629.9 L418.5,630.5 L419.0,631.3 L419.5,629.9 L420.0,628.7 L420.5,630.0 L421.0,630.1 L421.5,629.5 L422.0,629.4 L422.5,627.8 L423.0,629.3 L423.5,628.6 L424.0,628.5 L424.5,626.5 L425.0,625.8 L425.5,626.5 L426.0,625.7 L426.5,623.5 L427.0,622.6 L427.5,623.5 L428.0,622.3 L428.5,622.0 L429.0,621.7 L429.5,622.4 L430.0,623.4 L430.5,622.5 L431.0,621.2 L431.5,621.1 L432.0,618.9 L432.5,618.8 L433.0,620.4 L433.5,616.8 L434.0,617.7 L434.5,617.8 L435.0,617.1 L435.5,615.5 L436.0,615.7 L436.5,614.2 L437.0,614.9 L437.5,613.5 L438.0,613.5 L438.5,612.3 L439.0,612.0 L439.5,608.3 L440.0,609.9 L440.5,607.5 L441.0,597.7 L441.5,588.5 L442.0,594.1 L442.5,598.5 L443.0,597.3 L443.5,598.7 L444.0,595.6 L444.5,596.7 L445.0,595.2 L445.5,595.5 L446.0,594.7 L446.5,594.1 L447.0,594.5 L447.5,593.5 L448.0,596.9 L448.5,598.1 L449.0,601.4 L449.5,603.1 L450.0,605.3 L450.5,608.5 L451.0,606.5 L451.5,601.5 L452.0,597.5 L452.5,595.5 L453.0,592.0 L453.5,590.2 L454.0,585.6 L454.5,583.5 L455.0,587.2 L455.5,589.6 L456.0,593.0 L456.5,595.5 L457.0,593.2 L457.5,591.7 L458.0,590.4 L458.5,589.7 L459.0,588.6 L459.5,587.5 L460.0,587.7 L460.5,590.8 L461.0,592.2 L461.5,593.6 L462.0,595.9 L462.5,597.5 L463.0,600.4 L463.5,599.6 L464.0,603.1 L464.5,603.5 L465.0,604.2 L465.5,606.8 L466.0,606.1 L466.5,608.5 L467.0,611.0 L467.5,610.3 L468.0,612.9 L468.5,612.5 L469.0,610.0 L469.5,608.9 L470.0,608.1 L470.5,604.9 L471.0,603.5 L471.5,602.5 L472.0,597.5 L472.5,592.8 L473.0,585.5 L473.5,580.5 L474.0,580.8 L474.5,582.6 L475.0,585.7 L475.5,584.4 L476.0,587.2 L476.5,587.6 L477.0,589.7 L477.5,590.5 L478.0,590.9 L478.5,593.3 L479.0,595.4 L479.5,595.5 L480.0,602.1 L480.5,606.9 L481.0,612.0 L481.5,617.5 L482.0,612.2 L482.5,605.3 L483.0,602.0 L483.5,595.5 L484.0,594.1 L484.5,591.4 L485.0,590.0 L485.5,587.5 L486.0,578.8 L486.5,570.5" stroke="#e69f00" />
<path d="M486.5,570.5 L487.5,580.5 L487.5,490.5 L487.5,490.5 L488.5,507.5 L488.5,580.5 L488.5,580.5 L489.5,538.5 L489.5,490.5 L489.5,490.5 L490.5,490.5 L490.5,515.5 L490.5,602.1 L491.5,602.1 L491.5,604.7 L492.5,607.5 L492.5,600.5 L492.5,604.5 L493.5,604.5 L493.5,604.1 L494.5,604.1 L494.5,600.7 L495.5,600.7 L495.5,604.9 L496.5,607.5 L496.5,455.5 L496.5,455.5 L497.5,456.5 L497.5,621.5 L497.5,621.5 L498.5,593.5 L498.5,523.5 L498.5,603.6 L499.5,603.6 L499.5,604.7 L500.5,577.5 L500.5,520.5 L500.5,520.5 L501.5,462.5 L501.5,672.5 L501.5,672.5 L502.5,672.5 L502.5,462.5 L502.5,462.5 L503.5,462.5 L503.5,680.5 L503.5,680.5 L504.5,680.5 L504.5,615.5 L504.5,615.5 L505.5,615.5 L505.5,680.5 L505.5,672.5 L506.5,672.5 L506.5,675.5 L507.5,675.5 L507.5,672.5 L508.5,680.5 L508.5,624.5 L508.5,624.5 L509.5,650.5 L509.5,680.5 L509.5,672.5 L510.5,672.5 L510.5,672.5 L511.5,680.5 L511.5,634.5 L511.5,675.5 L512.5,675.5 L512.5,670.5 L513.5,680.5 L513.5,619.5 L513.5,619.5 L514.5,619.5 L514.5,680.5 L514.5,672.5 L515.5,672.5 L515.5,670.5 L516.5,680.5 L516.5,646.5 L516.5,672.5 L517.5,672.5 L517.5,672.5 L518.5,680.5 L518.5,644.5 L518.5,675.5 L519.5,675.5 L519.5,673.5 L520.5,680.5 L520.5,661.5 L520.5,661.5 L521.5,680.5 L521.5,600.5 L521.5,600.5 L522.5,641.5 L522.5,500.5 L522.5,500.5 L523.5,444.5 L523.5,680.5 L523.5,680.5 L524.5,680.5 L524.5,451.5 L524.5,451.5 L525.5,500.5 L525.5,680.5 L525.5,680.5 L526.5,680.5 L526.5,593.5 L526.5,593.5 L527.5,593.5 L527.5,680.5 L527.5,680.5 L528.5,680.5 L528.5,530.5 L528.5,530.5 L529.5,593.5 L529.5,680.5 L529.5,680.5 L530.5,680.5 L530.5,593.5 L530.5,593.5 L531.5,536.5 L531.5,680.5 L531.5,680.5 L532.5,680.5 L532.5,593.5 L532.5,672.5 L533.5,672.5 L533.5,673.5 L534.5,673.5 L534.5,672.5 L535.5,672.5 L535.5,672.5 L536.5,680.5 L536.5,658.5 L536.5,672.5 L537.5,672.5 L537.5,672.5 L538.5,668.5 L538.5,606.5 L538.5,672.5 L539.5,672.5 L539.5,672.5 L540.5,672.5 L540.5,668.5 L541.5,665.5 L541.5,672.5 L541.5,668.5 L542.5,668.5 L542.5,666.5 L543.5,666.5 L543.5,666.5 L544.5,666.5 L544.5,672.5 L544.5,666.5 L545.5,666.5 L545.5,670.5 L546.5,670.5 L546.5,668.5 L547.5,665.5 L547.5,675.5 L547.5,664.5 L548.5,664.5 L548.5,664.5 L549.5,664.5 L549.5,666.5 L550.5,666.5 L550.5,666.5 L551.5,666.5 L551.5,666.5 L552.5,666.5 L552.5,664.5 L553.5,664.5 L553.5,664.5 L554.5,664.5 L554.5,664.5 L555.5,664.5 L555.5,664.5 L556.5,664.5 L556.5,666.5 L557.5,680.5 L557.5,639.5 L557.5,664.5 L558.5,664.5 L558.5,664.5 L559.5,664.5 L559.5,664.5 L560.5,664.5 L560.5,664.5 L561.5,680.5 L561.5,641.5 L561.5,664.5 L562.5,664.5 L562.5,664.5 L563.5,680.5 L563.5,641.5 L563.5,664.5 L564.5,664.5 L564.5,664.5 L565.5,650.5 L565.5,680.5 L565.5,664.5 L566.5,664.5 L566.5,664.5 L567.5,664.5 L567.5,664.5 L568.5,664.5 L568.5,664.5 L569.5,664.5 L569.5,664.5 L570.5,680.5 L570.5,600.5 L570.5,666.5 L571.5,666.5 L571.5,666.5 L572.5,680.5 L572.5,600.5 L572.5,664.5 L573.5,664.5 L573.5,668.5 L574.5,680.5 L574.5,600.5 L574.5,670.5 L575.5,670.5 L575.5,670.5 L576.5,680.5 L576.5,471.5 L576.5,471.5 L577.5,456.5 L577.5,680.5 L577.5,680.5 L578.5,680.5 L578.5,457.5 L578.5,680.5 L579.5,680.5 L579.5,676.5 L580.5,670.5 L580.5,535.5 L580.5,535.5 L581.5,600.5 L581.5,670.5 L581.5,668.5 L582.5,668.5 L582.5,672.5 L583.5,672.5 L583.5,670.5 L584.5,670.5 L584.5,672.5 L585.5,680.5 L585.5,560.5 L585.5,560.5 L586.5,680.5 L586.5,439.5 L586.5,676.5 L587.5,676.5 L587.5,676.5 L588.5,676.5 L588.5,680.5 L589.5,680.5 L589.5,678.5 L590.5,678.5 L590.5,680.5 L591.5,680.5 L591.5,681.5 L592.5,680.5 L592.5,645.5 L592.5,681.5 L593.5,681.5 L593.5,681.5 L594.5,681.5 L594.5,677.5 L595.5,677.5 L595.5,677.5 L596.5,677.5 L596.5,681.5 L597.5,681.5 L597.5,681.5 L598.5,680.5 L598.5,603.5 L598.5,603.5 L599.5,603.5 L599.5,680.5 L599.5,676.5 L600.5,676.5 L600.5,676.5 L601.5,676.5 L601.5,680.5 L602.5,680.5 L602.5,681.5 L603.5,681.5 L603.5,679.5 L604.5,680.5 L604.5,607.5 L604.5,607.5 L605.5,536.5 L605.5,680.5 L605.5,680.5 L606.5,680.5 L606.5,590.5 L606.5,681.5 L607.5,681.5 L607.5,679.5 L608.5,679.5 L608.5,677.5 L609.5,677.5 L609.5,675.5 L610.5,680.5 L610.5,647.5 L610.5,673.5 L611.5,673.5 L611.5,677.5 L612.5,677.5 L612.5,679.5 L613.5,680.5 L613.5,555.5 L613.5,555.5 L614.5,590.5 L614.5,680.5 L614.5,672.5 L615.5,672.5 L615.5,668.5 L616.5,668.5 L616.5,666.5 L617.5,666.5 L617.5,666.5 L618.5,680.5 L618.5,517.5 L618.5,517.5 L619.5,520.5 L619.5,507.5 L619.5,507.5 L620.5,500.5 L620.5,518.5 L620.5,518.5 L621.5,490.5 L621.5,573.5 L621.5,573.5 L622.5,573.5 L622.5,488.5 L622.5,488.5 L623.5,486.5 L623.5,560.5 L623.5,560.5 L624.5,505.5 L624.5,470.5 L624.5,470.5 L625.5,480.5 L625.5,452.5 L625.5,452.5 L626.5,450.5 L626.5,470.5 L626.5,470.5 L627.5,458.5 L627.5,448.5 L627.5,448.5 L628.5,458.5 L628.5,470.5 L628.5,470.5 L629.5,455.5 L629.5,530.5 L629.5,530.5 L630.5,530.5 L630.5,453.5 L630.5,453.5 L631.5,457.5 L631.5,437.5 L631.5,437.5 L632.5,440.5 L632.5,460.5 L632.5,460.5 L633.5,450.5 L633.5,434.5 L633.5,434.5 L634.5,438.5 L634.5,450.5 L634.5,450.5 L635.5,445.5 L635.5,680.5 L635.5,680.5 L636.5,680.5 L636.5,450.5 L636.5,672.5 L637.5,672.5 L637.5,677.5 L638.5,680.5 L638.5,656.5 L638.5,656.5 L639.5,640.5 L639.5,680.5 L639.5,672.5 L640.5,672.5 L640.5,672.5 L641.5,672.5 L641.5,672.5 L642.5,680.5 L642.5,614.5 L642.5,672.5 L643.5,672.5 L643.5,677.5 L644.5,677.5 L644.5,675.5 L645.5,675.5 L645.5,672.5 L646.5,672.5 L646.5,670.5 L647.5,670.5 L647.5,672.5 L648.5,680.5 L648.5,590.5 L648.5,590.5 L649.5,590.5 L649.5,680.5 L649.5,677.5 L650.5,677.5 L650.5,672.5 L651.5,672.5 L651.5,672.5 L652.5,672.5 L652.5,677.5 L653.5,677.5 L653.5,672.5 L654.5,680.5 L654.5,639.5 L654.5,672.5 L655.5,672.5 L655.5,672.5 L656.5,672.5 L656.5,672.5 L657.5,672.5 L657.5,672.5 L658.5,672.5 L658.5,673.5 L659.5,673.5 L659.5,670.5 L660.5,680.5 L660.5,651.5 L660.5,672.5 L661.5,672.5 L661.5,672.5 L662.5,672.5 L662.5,672.5 L663.5,672.5 L663.5,672.5 L664.5,672.5 L664.5,640.5 L664.5,672.5 L665.5,672.5 L665.5,677.5 L666.5,672.5 L666.5,640.5 L666.5,672.5 L667.5,672.5 L667.5,672.5 L668.5,680.5 L668.5,650.5 L668.5,672.5 L669.5,672.5 L669.5,677.5 L670.5,677.5 L670.5,673.5 L671.5,680.5 L671.5,622.5 L671.5,675.5 L672.5,675.5 L672.5,672.5 L673.5,672.5 L673.5,672.5 L674.5,672.5 L674.5,672.5 L675.5,680.5 L675.5,602.5 L675.5,602.5 L676.5,621.5 L676.5,680.5 L676.5,680.5 L677.5,680.5 L677.5,640.5 L677.5,640.5 L678.5,621.5 L678.5,680.5 L678.5,680.5 L679.5,680.5 L679.5,513.5 L679.5,513.5 L680.5,521.5 L680.5,680.5 L680.5,670.5 L681.5,670.5 L681.5,672.5 L682.5,672.5 L682.5,672.5 L683.5,630.5 L683.5,582.5 L683.5,582.5 L684.5,590.5 L684.5,630.5 L684.5,673.5 L685.5,673.5 L685.5,672.5 L686.5,672.5 L686.5,672.5 L687.5,680.5 L687.5,645.5 L687.5,645.5 L688.5,641.5 L688.5,680.5 L688.5,673.5 L689.5,673.5 L689.5,673.5 L690.5,680.5 L690.5,604.5 L690.5,604.5 L691.5,641.5 L691.5,680.5 L691.5,672.5 L692.5,672.5 L692.5,677.5 L693.5,680.5 L693.5,590.5 L693.5,590.5 L694.5,634.5 L694.5,680.5 L694.5,673.5 L695.5,673.5 L695.5,675.5 L696.5,680.5 L696.5,632.5 L696.5,672.5 L697.5,672.5 L697.5,672.5 L698.5,672.5 L698.5,672.5 L699.5,672.5 L699.5,672.5 L700.5,672.5 L700.5,673.5 L701.5,680.5 L701.5,640.5 L701.5,640.5 L702.5,607.5 L702.5,680.5 L702.5,673.5 L703.5,673.5 L703.5,670.5 L704.5,670.5 L704.5,672.5 L705.5,672.5 L705.5,672.5 L706.5,680.5 L706.5,641.5 L706.5,672.5 L707.5,672.5 L707.5,672.5 L708.5,672.5 L708.5,672.5 L709.5,672.5 L709.5,670.5 L710.5,670.5 L710.5,675.5 L711.5,675.5 L711.5,672.5 L712.5,672.5 L712.5,672.5 L713.5,680.5 L713.5,652.5 L713.5,652.5 L714.5,636.5 L714.5,680.5 L714.5,672.5 L715.5,672.5 L715.5,670.5 L716.5,670.5 L716.5,672.5 L717.5,672.5 L717.5,673.5 L718.5,673.5 L718.5,672.5 L719.5,672.5 L719.5,652.5 L719.5,677.5 L720.5,677.5 L720.5,670.5 L721.5,672.5 L721.5,655.5 L721.5,673.5 L722.5,673.5 L722.5,656.5 L723.5,656.5 L723.5,660.5 L724.5,660.5 L724.5,664.5 L725.5,664.5 L725.5,667.5 L726.5,667.5 L726.5,670.5 L727.5,670.5 L727.5,673.5 L728.5,673.5 L728.5,676.5 L729.5,676.5 L729.5,677.5 L730.5,677.5 L730.5,678.5 L731.5,678.5 L731.5,679.5 L732.5,679.5 L732.5,679.5 L733.5,679.5 L733.5,680.5 L734.5,680.5 L734.5,680.5 L735.5,680.5 L735.5,681.5 L736.5,681.5 L736.5,681.5 L737.5,681.5 L737.5,681.5" stroke="#e69f00" />
<path d="M338.5,681.5 L347.5,680.5 L352.5,678.5 L358.5,676.5 L365.5,675.5 L370.5,672.5 L375.5,671.5 L378.5,669.5 L382.5,668.5 L385.5,667.5 L387.5,666.5 L389.5,664.5 L389.5,664.5 L390.0,664.1 L390.5,663.1 L391.0,663.6 L391.5,663.4 L392.0,664.7 L392.5,663.5 L393.0,664.3 L393.5,661.7 L394.0,662.3 L394.5,662.5 L395.0,663.4 L395.5,662.5 L396.0,660.2 L396.5,662.6 L397.0,661.0 L397.5,660.5 L398.0,658.4 L398.5,658.0 L399.0,658.5 L399.5,657.2 L400.0,655.8 L400.5,655.5 L401.0,654.6 L401.5,653.7 L402.0,654.3 L402.5,653.4 L403.0,654.5 L403.5,652.8 L404.0,651.0 L404.5,651.5 L405.0,648.3 L405.5,646.4 L406.0,646.7 L406.5,643.5 L407.0,640.4 L407.5,635.5 L408.0,633.5 L408.5,631.5 L409.0,634.9 L409.5,640.5 L410.0,640.7 L410.5,639.5 L411.0,640.9 L411.5,640.5 L412.0,640.1 L412.5,637.6 L413.0,634.1 L413.5,633.5 L414.0,627.5 L414.5,619.5 L415.0,621.4 L415.5,625.9 L416.0,626.6 L416.5,630.5 L417.0,633.7 L417.5,635.1 L418.0,637.4 L418.5,640.5 L419.0,640.9 L419.5,640.2 L420.0,640.5 L420.5,641.7 L421.0,640.6 L421.5,640.5 L422.0,640.5 L422.5,639.7 L423.0,637.7 L423.5,636.6 L424.0,635.5 L424.5,635.5 L425.0,634.4 L425.5,633.5 L426.0,631.5 L426.5,630.5 L427.0,630.2 L427.5,626.6 L428.0,627.5 L428.5,624.5 L429.0,624.2 L429.5,622.4 L430.0,624.4 L430.5,622.5 L431.0,621.4 L431.5,616.6 L432.0,615.9 L432.5,612.5 L433.0,611.1 L433.5,608.5 L434.0,610.7 L434.5,613.3 L435.0,618.4 L435.5,620.5 L436.0,619.3 L436.5,619.3 L437.0,617.5 L437.5,616.0 L438.0,615.8 L438.5,615.5 L439.0,613.6 L439.5,610.5 L440.0,609.1 L440.5,607.0 L441.0,606.5 L441.5,603.5 L442.0,606.3 L442.5,608.6 L443.0,608.8 L443.5,612.5 L444.0,612.7 L444.5,615.1 L445.0,614.4 L445.5,615.1 L446.0,616.3 L446.5,615.9 L447.0,617.2 L447.5,617.5 L448.0,619.3 L448.5,624.1 L449.0,626.1 L449.5,628.7 L450.0,633.9 L450.5,635.5 L451.0,633.0 L451.5,630.3 L452.0,625.3 L452.5,623.8 L453.0,618.5 L453.5,615.8 L454.0,612.5 L454.5,610.5 L455.0,613.4 L455.5,614.4 L456.0,618.1 L456.5,618.3 L457.0,621.6 L457.5,623.5 L458.0,623.9 L458.5,623.8 L459.0,622.4 L459.5,621.1 L460.0,619.8 L460.5,620.5 L461.0,625.2 L461.5,628.3 L462.0,633.7 L462.5,638.5 L463.0,637.7 L463.5,637.8 L464.0,637.1 L464.5,637.4 L465.0,637.5 L465.5,637.9 L466.0,637.8 L466.5,640.0 L467.0,638.5 L467.5,638.5 L468.0,639.2 L468.5,639.3 L469.0,640.4 L469.5,642.5 L470.0,639.5 L470.5,638.2 L471.0,635.4 L471.5,633.0 L472.0,629.1 L472.5,627.6 L473.0,626.0 L473.5,622.5 L474.0,623.2 L474.5,623.5 L475.0,625.1 L475.5,626.7 L476.0,627.2 L476.5,626.0 L477.0,626.5 L477.5,628.5 L478.0,631.4 L478.5,632.1 L479.0,636.3 L479.5,638.4 L480.0,641.1 L480.5,642.5 L481.0,644.3 L481.5,647.7 L482.0,649.2 L482.5,650.5 L483.0,650.3 L483.5,649.4 L484.0,646.3 L484.5,646.5 L485.0,644.9 L485.5,643.6 L486.0,641.4 L486.5,640.5" stroke="#f0e442" />
<path d="M486.5,612.5 L487.5,647.8 L487.5,647.3 L488.5,650.5 L488.5,578.5 L488.5,640.9 L489.5,640.9 L489.5,649.9 L490.5,654.5 L490.5,600.5 L490.5,640.7 L491.5,640.7 L491.5,643.4 L492.5,630.5 L492.5,583.5 L492.5,641.2 L493.5,641.2 L493.5,650.9 L494.5,640.5 L494.5,590.5 L494.5,641.4 L495.5,641.4 L495.5,642.8 L496.5,645.5 L496.5,567.5 L496.5,644.4 L497.5,644.4 L497.5,650.3 L498.5,654.5 L498.5,590.5 L498.5,650.7 L499.5,650.7 L499.5,641.9 L500.5,641.9 L500.5,647.9 L501.5,647.9 L501.5,645.4 L502.5,645.4 L502.5,644.7 L503.5,644.7 L503.5,649.1 L504.5,621.5 L504.5,682.5 L504.5,682.5 L505.5,682.5 L505.5,621.5 L505.5,681.5 L506.5,681.5 L506.5,681.5 L507.5,681.5 L507.5,681.5 L508.5,681.5 L508.5,678.5 L509.5,678.5 L509.5,681.5 L510.5,681.5 L510.5,681.5 L511.5,681.5 L511.5,681.5 L512.5,681.5 L512.5,681.5 L513.5,681.5 L513.5,681.5 L514.5,681.5 L514.5,681.5 L515.5,681.5 L515.5,681.5 L516.5,681.5 L516.5,681.5 L517.5,681.5 L517.5,678.5 L518.5,678.5 L518.5,679.5 L519.5,679.5 L519.5,681.5 L520.5,681.5 L520.5,678.5 L521.5,680.5 L521.5,590.5 L521.5,590.5 L522.5,590.5 L522.5,680.5 L522.5,680.5 L523.5,680.5 L523.5,600.5 L523.5,681.5 L524.5,681.5 L524.5,681.5 L525.5,681.5 L525.5,678.5 L526.5,678.5 L526.5,680.5 L527.5,680.5 L527.5,681.5 L528.5,681.5 L528.5,681.5 L529.5,680.5 L529.5,628.5 L529.5,677.5 L530.5,677.5 L530.5,681.5 L531.5,681.5 L531.5,681.5 L532.5,681.5 L532.5,680.5 L533.5,680.5 L533.5,681.5 L534.5,681.5 L534.5,677.5 L535.5,677.5 L535.5,681.5 L536.5,681.5 L536.5,681.5 L537.5,681.5 L537.5,681.5 L538.5,681.5 L538.5,678.5 L539.5,678.5 L539.5,681.5 L540.5,681.5 L540.5,681.5 L541.5,681.5 L541.5,678.5 L542.5,678.5 L542.5,681.5 L543.5,681.5 L543.5,681.5 L544.5,681.5 L544.5,681.5 L545.5,681.5 L545.5,681.5 L546.5,681.5 L546.5,678.5 L547.5,678.5 L547.5,680.5 L548.5,680.5 L548.5,681.5 L549.5,681.5 L549.5,681.5 L550.5,681.5 L550.5,678.5 L551.5,678.5 L551.5,681.5 L552.5,681.5 L552.5,679.5 L553.5,679.5 L553.5,678.5 L554.5,678.5 L554.5,678.5 L555.5,678.5 L555.5,681.5 L556.5,681.5 L556.5,673.5 L556.5,678.5 L557.5,678.5 L557.5,678.5 L558.5,678.5 L558.5,681.5 L559.5,681.5 L559.5,681.5 L560.5,681.5 L560.5,681.5 L561.5,681.5 L561.5,678.5 L562.5,678.5 L562.5,681.5 L563.5,681.5 L563.5,681.5 L564.5,681.5 L564.5,681.5 L565.5,681.5 L565.5,681.5 L566.5,681.5 L566.5,681.5 L567.5,681.5 L567.5,679.5 L568.5,679.5 L568.5,679.5 L569.5,679.5 L569.5,679.5 L570.5,679.5 L570.5,679.5 L571.5,679.5 L571.5,681.5 L572.5,681.5 L572.5,678.5 L573.5,678.5 L573.5,681.5 L574.5,681.5 L574.5,681.5 L575.5,680.5 L575.5,632.5 L575.5,679.5 L576.5,679.5 L576.5,681.5 L577.5,680.5 L577.5,650.5 L577.5,678.5 L578.5,678.5 L578.5,678.5 L579.5,678.5 L579.5,681.5 L580.5,681.5 L580.5,681.5 L581.5,681.5 L581.5,681.5 L582.5,681.5 L582.5,680.5 L583.5,681.5 L583.5,664.5 L583.5,681.5 L584.5,681.5 L584.5,680.5 L585.5,680.5 L585.5,681.5 L586.5,680.5 L586.5,628.5 L586.5,681.5 L587.5,681.5 L587.5,680.5 L588.5,680.5 L588.5,681.5 L589.5,681.5 L589.5,681.5 L590.5,681.5 L590.5,681.5 L591.5,681.5 L591.5,681.5 L592.5,681.5 L592.5,680.5 L593.5,680.5 L593.5,681.5 L594.5,681.5 L594.5,681.5 L595.5,681.5 L595.5,681.5 L596.5,681.5 L596.5,680.5 L597.5,681.5 L597.5,660.5 L597.5,681.5 L598.5,681.5 L598.5,680.5 L599.5,681.5 L599.5,660.5 L599.5,681.5 L600.5,681.5 L600.5,681.5 L601.5,681.5 L601.5,681.5 L602.5,681.5 L602.5,681.5 L603.5,681.5 L603.5,677.5 L604.5,677.5 L604.5,681.5 L605.5,681.5 L605.5,681.5 L606.5,681.5 L606.5,680.5 L607.5,680.5 L607.5,681.5 L608.5,681.5 L608.5,680.5 L609.5,680.5 L609.5,681.5 L610.5,681.5 L610.5,681.5 L611.5,681.5 L611.5,681.5 L612.5,681.5 L612.5,668.5 L612.5,679.5 L613.5,679.5 L613.5,679.5 L614.5,681.5 L614.5,668.5 L614.5,680.5 L615.5,680.5 L615.5,678.5 L616.5,678.5 L616.5,680.5 L617.5,680.5 L617.5,679.5 L618.5,679.5 L618.5,658.5 L619.5,658.5 L619.5,656.5 L620.5,656.5 L620.5,656.5 L621.5,659.5 L621.5,680.5 L621.5,656.5 L622.5,656.5 L622.5,656.5 L623.5,656.5 L623.5,656.5 L624.5,656.5 L624.5,657.5 L625.5,657.5 L625.5,656.5 L626.5,656.5 L626.5,656.5 L627.5,656.5 L627.5,656.5 L628.5,656.5 L628.5,658.5 L629.5,658.5 L629.5,660.5 L630.5,660.5 L630.5,662.5 L631.5,662.5 L631.5,660.5 L632.5,660.5 L632.5,658.5 L633.5,658.5 L633.5,658.5 L634.5,658.5 L634.5,656.5 L635.5,656.5 L635.5,656.5 L636.5,664.5 L636.5,680.5 L636.5,657.5 L637.5,657.5 L637.5,677.5 L638.5,677.5 L638.5,681.5 L639.5,681.5 L639.5,681.5 L640.5,681.5 L640.5,681.5 L641.5,681.5 L641.5,679.5 L642.5,679.5 L642.5,681.5 L643.5,681.5 L643.5,681.5 L644.5,681.5 L644.5,681.5 L645.5,681.5 L645.5,681.5 L646.5,681.5 L646.5,677.5 L647.5,677.5 L647.5,677.5 L648.5,677.5 L648.5,681.5 L649.5,681.5 L649.5,681.5 L650.5,681.5 L650.5,681.5 L651.5,681.5 L651.5,681.5 L652.5,681.5 L652.5,678.5 L653.5,678.5 L653.5,681.5 L654.5,681.5 L654.5,678.5 L655.5,678.5 L655.5,681.5 L656.5,681.5 L656.5,681.5 L657.5,681.5 L657.5,681.5 L658.5,681.5 L658.5,681.5 L659.5,681.5 L659.5,681.5 L660.5,681.5 L660.5,681.5 L661.5,681.5 L661.5,681.5 L662.5,681.5 L662.5,679.5 L663.5,679.5 L663.5,679.5 L664.5,679.5 L664.5,681.5 L665.5,681.5 L665.5,681.5 L666.5,681.5 L666.5,679.5 L667.5,679.5 L667.5,681.5 L668.5,681.5 L668.5,681.5 L669.5,681.5 L669.5,681.5 L670.5,681.5 L670.5,681.5 L671.5,681.5 L671.5,680.5 L672.5,680.5 L672.5,677.5 L673.5,677.5 L673.5,677.5 L674.5,677.5 L674.5,679.5 L675.5,679.5 L675.5,681.5 L676.5,681.5 L676.5,677.5 L677.5,677.5 L677.5,680.5 L678.5,680.5 L678.5,681.5 L679.5,681.5 L679.5,680.5 L680.5,680.5 L680.5,681.5 L681.5,681.5 L681.5,681.5 L682.5,681.5 L682.5,677.5 L683.5,677.5 L683.5,679.5 L684.5,679.5 L684.5,681.5 L685.5,681.5 L685.5,681.5 L686.5,681.5 L686.5,681.5 L687.5,681.5 L687.5,681.5 L688.5,681.5 L688.5,681.5 L689.5,681.5 L689.5,681.5 L690.5,681.5 L690.5,681.5 L691.5,681.5 L691.5,678.5 L692.5,678.5 L692.5,679.5 L693.5,679.5 L693.5,681.5 L694.5,681.5 L694.5,679.5 L695.5,679.5 L695.5,677.5 L696.5,677.5 L696.5,681.5 L697.5,681.5 L697.5,678.5 L698.5,678.5 L698.5,681.5 L699.5,681.5 L699.5,679.5 L700.5,679.5 L700.5,680.5 L701.5,680.5 L701.5,681.5 L702.5,681.5 L702.5,681.5 L703.5,681.5 L703.5,681.5 L704.5,681.5 L704.5,681.5 L705.5,681.5 L705.5,681.5 L706.5,681.5 L706.5,677.5 L707.5,677.5 L707.5,678.5 L708.5,678.5 L708.5,680.5 L709.5,680.5 L709.5,680.5 L710.5,680.5 L710.5,681.5 L711.5,681.5 L711.5,681.5 L712.5,681.5 L712.5,679.5 L713.5,679.5 L713.5,681.5 L714.5,681.5 L714.5,681.5 L715.5,681.5 L715.5,681.5 L716.5,681.5 L716.5,681.5 L717.5,681.5 L717.5,677.5 L718.5,677.5 L718.5,681.5 L719.5,681.5 L719.5,677.5 L720.5,677.5 L720.5,681.5 L721.5,681.5 L721.5,681.5 L722.5,681.5 L722.5,680.5 L723.5,680.5 L723.5,681.5 L724.5,681.5 L724.5,681.5 L725.5,681.5 L725.5,681.5 L726.5,681.5 L726.5,681.5 L727.5,681.5 L727.5,681.5 L728.5,681.5 L728.5,681.5 L729.5,681.5 L729.5,680.5 L730.5,680.5 L730.5,681.5 L731.5,681.5 L731.5,681.5 L732.5,681.5 L732.5,680.5 L733.5,680.5 L733.5,681.5 L734.5,681.5 L734.5,681.5 L735.5,681.5 L735.5,681.5 L736.5,681.5 L736.5,681.5 L737.5,681.5 L737.5,681.5 L738.5,681.5 L738.5,681.5" stroke="#f0e442" />
<path d="M110.5,680.5 L117.5,679.5 L126.5,677.5 L134.5,676.5 L144.5,675.5 L153.5,674.5 L161.5,672.5 L167.5,671.5 L177.5,670.5 L186.5,669.5 L196.5,667.5 L207.5,666.5 L212.5,665.5 L219.5,664.5 L229.5,662.5 L237.5,661.5 L248.5,660.5 L258.5,659.5 L264.5,657.5 L279.5,656.5 L288.5,654.5 L296.5,653.5 L306.5,651.5 L314.5,650.5 L320.5,649.5 L348.5,649.5 L349.5,647.5 L358.5,646.5 L366.5,644.5 L379.5,641.5 L387.5,639.5 L399.5,636.5 L420.5,634.5 L430.5,631.5 L450.5,628.5 L480.5,624.5 L486.5,623.5 L500.5,620.5 L505.5,617.5 L520.5,616.5 L524.5,613.5 L527.5,609.5 L530.5,607.5 L540.5,605.5 L547.5,604.5 L556.5,603.5 L565.5,601.5 L573.5,600.5 L578.5,598.5 L580.5,596.5 L585.5,593.5 L596.5,592.5 L604.5,591.5 L610.5,590.5 L618.5,589.5 L635.5,562.5 L640.5,561.5 L660.5,558.5 L680.5,555.5 L700.5,552.5 L720.5,549.5 L740.5,546.5 L760.5,542.5 L794.5,537.5 L826.5,532.5 L852.5,529.5 L860.5,529.5" stroke="#0072b2" />
</g>
<rect x="105" y="58" width="278" height="122" fill="#fff"/>
<path d="M104.5,681v-7M104.5,58v7M136.5,681v-3M136.5,58v3M167.5,681v-7M167.5,58v7M199.5,681v-3M199.5,58v3M230.5,681v-7M230.5,58v7M262.5,681v-3M262.5,58v3M293.5,681v-7M293.5,58v7M325.5,681v-3M325.5,58v3M356.5,681v-7M356.5,58v7M388.5,681v-3M388.5,58v3M419.5,681v-7M419.5,58v7M451.5,681v-3M451.5,58v3M482.5,681v-7M482.5,58v7M514.5,681v-3M514.5,58v3M545.5,681v-7M545.5,58v7M577.5,681v-3M577.5,58v3M608.5,681v-7M608.5,58v7M640.5,681v-3M640.5,58v3M671.5,681v-7M671.5,58v7M703.5,681v-3M703.5,58v3M734.5,681v-7M734.5,58v7M766.5,681v-3M766.5,58v3M797.5,681v-7M797.5,58v7M829.5,681v-3M829.5,58v3M860.5,681v-7M860.5,58v7M105,568.5h7M860,568.5h-7M105,454.5h7M860,454.5h-7M105,341.5h7M860,341.5h-7M105,227.5h7M860,227.5h-7M105,114.5h7M860,114.5h-7M860,556.5h-7M860,431.5h-7M860,307.5h-7M860,182.5h-7" stroke="#000" stroke-width="1" fill="none" shape-rendering="crispEdges"/>
<rect x="104.5" y="57.5" width="756" height="624" fill="none" stroke="#000" stroke-width="1" shape-rendering="crispEdges"/>
<text x="342" y="31" text-anchor="start" >Tagesdiagramm vom 2026-04-10</text>
<text x="41" y="116" text-anchor="start" >10000</text>
<text x="51" y="229" text-anchor="start" >8000</text>
<text x="51" y="343" text-anchor="start" >6000</text>
<text x="51" y="456" text-anchor="start" >4000</text>
<text x="51" y="570" text-anchor="start" >2000</text>
<text x="80" y="683" text-anchor="start" >0</text>
<text x="876" y="59" text-anchor="start" >50</text>
<text x="876" y="184" text-anchor="start" >40</text>
<text x="876" y="309" text-anchor="start" >30</text>
<text x="876" y="433" text-anchor="start" >20</text>
<text x="876" y="558" text-anchor="start" >10</text>
<text x="876" y="683" text-anchor="start" >0</text>
<text x="78" y="702" text-anchor="start" >00:00</text>
<text x="141" y="702" text-anchor="start" >02:00</text>
<text x="204" y="702" text-anchor="start" >04:00</text>
<text x="267" y="702" text-anchor="start" >06:00</text>
<text x="330" y="702" text-anchor="start" >08:00</text>
<text x="393" y="702" text-anchor="start" >10:00</text>
<text x="456" y="702" text-anchor="start" >12:00</text>
<text x="519" y="702" text-anchor="start" >14:00</text>
<text x="582" y="702" text-anchor="start" >16:00</text>
<text x="645" y="702" text-anchor="start" >18:00</text>
<text x="708" y="702" text-anchor="start" >20:00</text>
<text x="771" y="702" text-anchor="start" >22:00</text>
<text x="0" y="0" text-anchor="start" transform="translate(19,433) rotate(-90)">Leistung [W]</text>
<text x="0" y="0" text-anchor="start" transform="translate(921,436) rotate(-90)">Energie [kWh]</text>
<text x="134" y="76" text-anchor="start" >AC Leistung in [W]</text>
<path d="M324,74.5H372" stroke="#9400d3" stroke-width="1" shape-rendering="crispEdges"/>
<text x="134" y="95" text-anchor="start" >PV-Power-In in [W]</text>
<path d="M324,93.5H372" stroke="#009e73" stroke-width="1" shape-rendering="crispEdges"/>
<text x="124" y="114" text-anchor="start" >PV-Power-Out in [W]</text>
<path d="M324,112.5H372" stroke="#56b4e9" stroke-width="1" shape-rendering="crispEdges"/>
<text x="114" y="133" text-anchor="start" >PV-1 Leistung in [W]</text>
<path d="M324,131.5H372" stroke="#e69f00" stroke-width="1" shape-rendering="crispEdges"/>
<text x="114" y="152" text-anchor="start" >PV-2 Leistung in [W]</text>
<path d="M324,150.5H372" stroke="#f0e442" stroke-width="1" shape-rendering="crispEdges"/>
<text x="154" y="171" text-anchor="start" >Energie in [kWh]</text>
<path d="M324,169.5H372" stroke="#0072b2" stroke-width="1" shape-rendering="crispEdges"/>
</svg></body></html>
